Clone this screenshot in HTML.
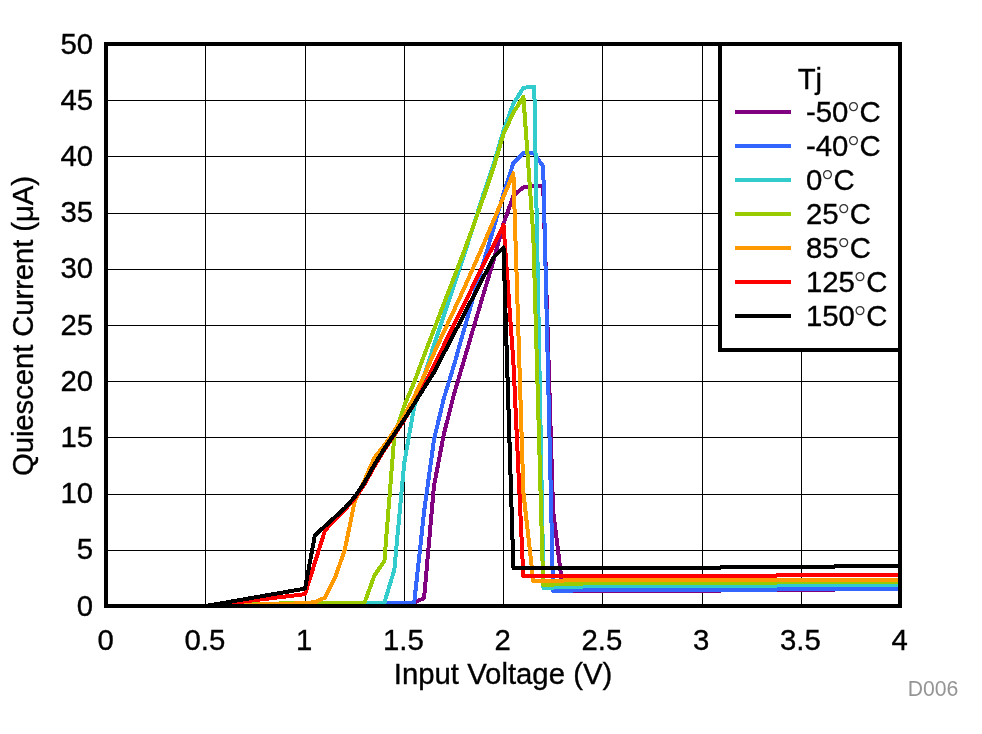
<!DOCTYPE html>
<html lang="en">
<head>
<meta charset="utf-8">
<title>Quiescent Current vs Input Voltage</title>
<style>
html,body{margin:0;padding:0;background:#fff;}
body{width:982px;height:734px;overflow:hidden;}
svg{display:block;}
text{font-family:"Liberation Sans",Arial,Helvetica,sans-serif;fill:#000;}
.t{font-size:29.33px;stroke:#000;stroke-width:0.35px;}
.deg{font-family:"DejaVu Sans Light","DejaVu Sans","Liberation Sans",sans-serif;font-weight:200;fill:#333;stroke:none;}
</style>
</head>
<body>
<svg width="982" height="734" viewBox="0 0 982 734">
<rect x="0" y="0" width="982" height="734" fill="#ffffff"/>

<g fill="#000" shape-rendering="crispEdges">
<rect x="205" y="44" width="1" height="562"/>
<rect x="305" y="44" width="1" height="562"/>
<rect x="404" y="44" width="1" height="562"/>
<rect x="503" y="44" width="1" height="562"/>
<rect x="602" y="44" width="1" height="562"/>
<rect x="702" y="44" width="1" height="562"/>
<rect x="801" y="44" width="1" height="562"/>
<rect x="106" y="550" width="794" height="1"/>
<rect x="106" y="494" width="794" height="1"/>
<rect x="106" y="437" width="794" height="1"/>
<rect x="106" y="381" width="794" height="1"/>
<rect x="106" y="325" width="794" height="1"/>
<rect x="106" y="269" width="794" height="1"/>
<rect x="106" y="213" width="794" height="1"/>
<rect x="106" y="156" width="794" height="1"/>
<rect x="106" y="100" width="794" height="1"/>
</g>
<g fill="none" stroke-width="4" stroke-linejoin="round" stroke-linecap="butt" shape-rendering="crispEdges">
<polyline stroke="#800080" points="106.5,606.0 205.8,606.0 305.0,602.6 414.2,602.6 424.1,598.1 434.0,485.7 443.9,434.0 453.9,394.7 463.8,361.0 473.7,327.2 483.6,293.5 493.6,260.4 503.5,223.8 513.4,195.7 523.4,187.3 533.3,185.6 543.2,185.6 553.1,510.5 563.0,591.0 720.0,591.0 721.0,590.0 834.0,590.0 835.0,589.0 900.0,589.0"/>
<polyline stroke="#3366FF" points="106.5,606.0 205.8,606.0 305.0,602.6 414.2,602.6 424.1,511.6 434.0,439.6 443.9,398.1 453.9,365.5 463.8,330.6 473.7,295.8 483.6,262.1 493.6,228.3 503.5,193.5 513.4,163.1 523.4,153.0 533.3,152.5 543.2,166.5 553.1,591.0 572.0,591.0 573.0,590.0 776.0,590.0 777.0,589.0 900.0,589.0"/>
<polyline stroke="#33CCCC" points="106.5,606.0 205.8,606.0 305.0,602.6 384.4,602.6 394.3,570.0 404.2,463.3 414.2,406.5 424.1,375.6 434.0,345.2 443.9,315.4 453.9,285.7 463.8,255.9 473.7,225.0 483.6,193.5 493.6,164.3 503.5,130.5 513.4,103.6 523.4,87.8 534.3,86.7 543.5,588.0 553.0,588.0 554.0,587.0 582.0,587.0 583.0,586.0 776.0,586.0 777.0,585.0 900.0,585.0"/>
<polyline stroke="#99CC00" points="106.5,606.0 205.8,606.0 305.0,602.6 364.6,602.6 374.5,575.4 384.4,561.0 394.3,436.3 404.2,405.9 414.2,382.3 424.1,355.3 434.0,329.5 443.9,303.6 453.9,277.8 463.8,251.9 473.7,225.0 483.6,196.9 493.6,167.6 503.5,133.9 513.4,112.6 523.4,96.8 533.3,235.1 543.2,585.0 553.0,585.0 554.0,584.0 582.0,584.0 583.0,583.0 776.0,583.0 777.0,582.0 900.0,582.0"/>
<polyline stroke="#FF9900" points="106.5,606.0 205.8,606.0 305.0,603.2 314.9,602.1 324.9,597.7 334.8,578.3 344.7,550.2 354.6,501.9 364.6,480.1 374.5,457.6 384.4,445.3 394.3,430.7 404.2,416.0 414.2,396.9 424.1,375.6 434.0,353.1 443.9,331.7 453.9,310.4 463.8,289.0 473.7,266.6 483.6,244.1 493.6,220.5 503.5,196.9 513.4,173.3 523.4,492.5 533.3,581.0 563.0,581.0 564.0,580.0 900.0,580.0"/>
<polyline stroke="#FF0000" points="106.5,606.0 205.8,606.0 305.0,594.2 324.9,530.7 334.8,519.5 344.7,509.9 354.6,498.7 364.6,484.0 374.5,466.1 384.4,449.8 394.3,435.2 404.2,420.0 414.2,403.7 424.1,385.7 434.0,365.5 443.9,345.2 453.9,325.0 463.8,304.8 473.7,284.5 483.6,264.3 493.6,245.2 503.5,225.0 513.4,362.1 523.3,576.0 776.0,576.0 777.0,575.0 900.0,575.0"/>
<polyline stroke="#000000" points="106.5,606.0 205.8,606.0 305.0,588.6 314.9,535.2 324.9,526.2 334.8,517.2 344.7,508.2 354.6,497.0 364.6,482.4 374.5,464.4 384.4,448.6 394.3,434.0 404.2,419.4 414.2,403.7 424.1,387.9 434.0,372.2 443.9,353.1 453.9,334.0 463.8,314.9 473.7,295.8 483.6,276.7 493.6,257.6 503.5,247.4 513.4,568.0 720.0,568.0 721.0,567.0 834.0,567.0 835.0,566.0 900.0,566.0"/>
</g>
<rect x="106" y="44" width="794" height="562" fill="none" stroke="#000" stroke-width="4" shape-rendering="crispEdges"/>
<rect x="720" y="44" width="180" height="306" fill="#fff" stroke="#000" stroke-width="4" shape-rendering="crispEdges"/>
<text class="t" text-anchor="start" x="797.70" y="89.00">Tj</text>
<rect x="735" y="110" width="56" height="4" fill="#800080" shape-rendering="crispEdges"/>
<text class="t" x="806.00" y="122.30">-50<tspan class="deg" x="845.07" y="127.00" style="font-size:33.9px">°</tspan><tspan x="859.59" y="122.30">C</tspan></text>
<rect x="735" y="144" width="56" height="4" fill="#3366FF" shape-rendering="crispEdges"/>
<text class="t" x="806.00" y="156.30">-40<tspan class="deg" x="845.07" y="161.00" style="font-size:33.9px">°</tspan><tspan x="859.59" y="156.30">C</tspan></text>
<rect x="735" y="178" width="56" height="4" fill="#33CCCC" shape-rendering="crispEdges"/>
<text class="t" x="806.00" y="190.30">0<tspan class="deg" x="818.99" y="195.00" style="font-size:33.9px">°</tspan><tspan x="833.51" y="190.30">C</tspan></text>
<rect x="735" y="212" width="56" height="4" fill="#99CC00" shape-rendering="crispEdges"/>
<text class="t" x="806.00" y="224.30">25<tspan class="deg" x="835.30" y="229.00" style="font-size:33.9px">°</tspan><tspan x="849.82" y="224.30">C</tspan></text>
<rect x="735" y="246" width="56" height="4" fill="#FF9900" shape-rendering="crispEdges"/>
<text class="t" x="806.00" y="258.30">85<tspan class="deg" x="835.30" y="263.00" style="font-size:33.9px">°</tspan><tspan x="849.82" y="258.30">C</tspan></text>
<rect x="735" y="280" width="56" height="4" fill="#FF0000" shape-rendering="crispEdges"/>
<text class="t" x="806.00" y="292.30">125<tspan class="deg" x="851.61" y="297.00" style="font-size:33.9px">°</tspan><tspan x="866.14" y="292.30">C</tspan></text>
<rect x="735" y="314" width="56" height="4" fill="#000000" shape-rendering="crispEdges"/>
<text class="t" x="806.00" y="326.30">150<tspan class="deg" x="851.61" y="331.00" style="font-size:33.9px">°</tspan><tspan x="866.14" y="326.30">C</tspan></text>
<text class="t" text-anchor="end" x="93.00" y="615.60">0</text>
<text class="t" text-anchor="end" x="93.00" y="559.40">5</text>
<text class="t" text-anchor="end" x="93.00" y="503.20">10</text>
<text class="t" text-anchor="end" x="93.00" y="447.00">15</text>
<text class="t" text-anchor="end" x="93.00" y="390.80">20</text>
<text class="t" text-anchor="end" x="93.00" y="334.60">25</text>
<text class="t" text-anchor="end" x="93.00" y="278.40">30</text>
<text class="t" text-anchor="end" x="93.00" y="222.20">35</text>
<text class="t" text-anchor="end" x="93.00" y="166.00">40</text>
<text class="t" text-anchor="end" x="93.00" y="109.80">45</text>
<text class="t" text-anchor="end" x="93.00" y="53.60">50</text>
<text class="t" text-anchor="middle" x="105.70" y="649.60">0</text>
<text class="t" text-anchor="middle" x="204.95" y="649.60">0.5</text>
<text class="t" text-anchor="middle" x="304.20" y="649.60">1</text>
<text class="t" text-anchor="middle" x="403.45" y="649.60">1.5</text>
<text class="t" text-anchor="middle" x="502.70" y="649.60">2</text>
<text class="t" text-anchor="middle" x="601.95" y="649.60">2.5</text>
<text class="t" text-anchor="middle" x="701.20" y="649.60">3</text>
<text class="t" text-anchor="middle" x="800.45" y="649.60">3.5</text>
<text class="t" text-anchor="middle" x="899.70" y="649.60">4</text>
<text class="t" text-anchor="middle" x="503.00" y="683.80">Input Voltage (V)</text>
<text class="t" text-anchor="middle" transform="translate(33.0 326) rotate(-90)" style="letter-spacing:-0.1px">Quiescent Current (μA)</text>
<text x="958.4" y="695.9" text-anchor="end" style="font-size:21.2px;fill:#959595">D006</text>
</svg>
</body>
</html>
